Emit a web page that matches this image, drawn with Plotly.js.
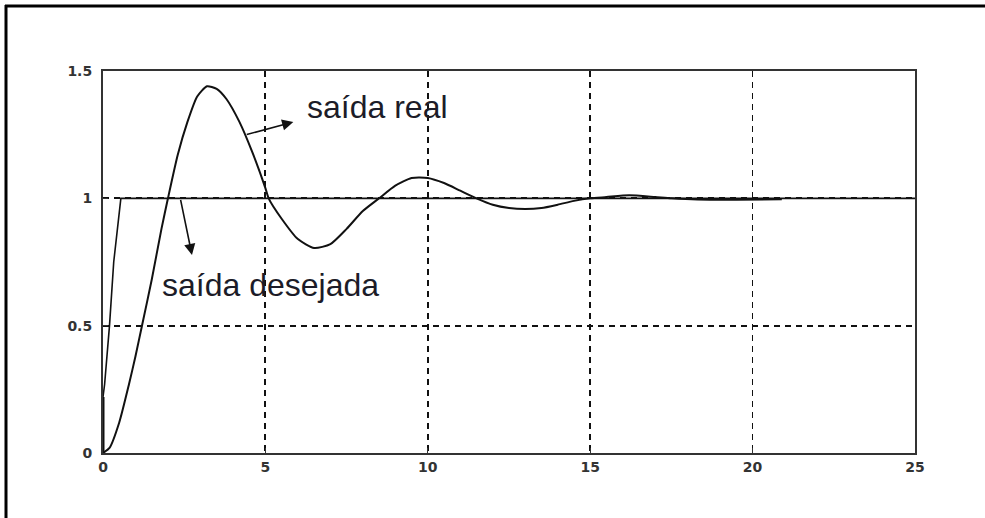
<!DOCTYPE html>
<html><head><meta charset="utf-8">
<script src="https://cdn.plot.ly/plotly-3.0.1.min.js"></script>
<style>html,body{margin:0;padding:0;background:#fff}#chart{width:985px;height:518px}</style>
</head><body><div id="chart"></div>
<script>
// Actual output (saída real)
const realT = [0, 0.2, 0.5, 0.8, 1.0, 1.2, 1.5, 1.8, 2.0, 2.3, 2.6, 2.9, 3.2, 3.5, 3.8, 4.2, 4.6, 5.0, 5.1, 5.5, 6.0, 6.5, 7.0, 7.5, 8.0, 8.5, 9.0, 9.5, 10.0, 10.5, 11.0, 11.5, 12.0, 12.5, 13.0, 13.5, 14.0, 14.5, 15.0, 15.5, 16.2, 17.0, 17.5, 18.3, 19.5, 20.9];
const realY = [0, 0.02, 0.12, 0.27, 0.38, 0.5, 0.68, 0.88, 1.0, 1.17, 1.3, 1.4, 1.44, 1.43, 1.39, 1.3, 1.18, 1.04, 1.0, 0.92, 0.84, 0.805, 0.82, 0.88, 0.95, 1.0, 1.05, 1.08, 1.08, 1.06, 1.03, 1.0, 0.975, 0.962, 0.958, 0.962, 0.975, 0.99, 1.0, 1.005, 1.012, 1.005, 1.0, 0.995, 0.994, 0.996];
// Desired output (saída desejada)
const desT = [0, 0, 0.05, 0.2, 0.33, 0.45, 0.55, 25];
const desY = [0, 0.22, 0.27, 0.5, 0.75, 0.9, 1.0, 1.0];
// Ticks
const xTicks = [0, 5, 10, 15, 20, 25];
const xTickText = ["0", "5", "10", "15", "20", "25"];
const yTicks = [0, 0.5, 1, 1.5];
const yTickText = ["0", "0.5", "1", "1.5"];
// Labels
const labelReal = "saída real";
const labelDes = "saída desejada";

const traces = [
  {x: [0, 0], y: [0, 0.22], mode: 'lines', line: {color: '#111', width: 3}, hoverinfo: 'skip'},
  {x: desT, y: desY, mode: 'lines', line: {color: '#111', width: 1.6}, hoverinfo: 'skip'},
  {x: realT, y: realY, mode: 'lines', line: {color: '#111', width: 2, shape: 'spline', smoothing: 0.6}, hoverinfo: 'skip'}
];

const tickFont = {family: 'DejaVu Sans', size: 14, color: '#333', weight: 'bold'};
const W = 812, H = 382, L = 103, T = 71;
const px = p => (p - L) / W;
const py = p => (T + H - p) / H;
const layout = {
  width: 985, height: 518,
  margin: {l: L, r: 985 - L - W, t: T, b: 518 - T - H},
  paper_bgcolor: '#fff', plot_bgcolor: '#fff',
  showlegend: false,
  xaxis: {
    range: [0, 25], tickvals: xTicks, ticktext: xTickText,
    showgrid: true, gridcolor: '#111', gridwidth: 1.8, griddash: '6px,5px',
    showline: true, mirror: true, linecolor: '#333', linewidth: 2,
    ticks: 'inside', ticklen: 5, tickcolor: '#333', tickfont: tickFont,
    zeroline: false, fixedrange: true
  },
  yaxis: {
    range: [0, 1.5], tickvals: yTicks, ticktext: yTickText,
    showgrid: true, gridcolor: '#111', gridwidth: 1.8, griddash: '6px,5px',
    showline: true, mirror: true, linecolor: '#333', linewidth: 2,
    ticks: 'inside', ticklen: 5, tickcolor: '#333', tickfont: tickFont,
    ticklabelstandoff: 6,
    zeroline: false, fixedrange: true
  },
  shapes: [
    {type: 'line', xref: 'paper', yref: 'paper', x0: px(5), x1: px(985), y0: py(6), y1: py(6), line: {color: '#000', width: 3}},
    {type: 'line', xref: 'paper', yref: 'paper', x0: px(6), x1: px(6), y0: py(518), y1: py(5), line: {color: '#000', width: 3}}
  ],
  annotations: [
    {x: 6.22, y: 1.36, xref: 'x', yref: 'y', text: labelReal, showarrow: false, xanchor: 'left', yanchor: 'middle',
     font: {family: 'Liberation Sans, Arial, sans-serif', size: 32, color: '#1c1c28'}},
    {x: 1.76, y: 0.66, xref: 'x', yref: 'y', text: labelDes, showarrow: false, xanchor: 'left', yanchor: 'middle',
     font: {family: 'Liberation Sans, Arial, sans-serif', size: 32, color: '#1c1c28'}},
    {x: 5.86, y: 1.30, ax: 4.38, ay: 1.249, xref: 'x', yref: 'y', axref: 'x', ayref: 'y', text: '', showarrow: true,
     arrowhead: 2, arrowsize: 1.4, arrowwidth: 1.6, arrowcolor: '#111'},
    {x: 2.74, y: 0.777, ax: 2.38, ay: 1.0, xref: 'x', yref: 'y', axref: 'x', ayref: 'y', text: '', showarrow: true,
     arrowhead: 2, arrowsize: 1.4, arrowwidth: 1.6, arrowcolor: '#111'}
  ]
};
Plotly.newPlot('chart', traces, layout, {displayModeBar: false, staticPlot: true});
</script></body></html>
